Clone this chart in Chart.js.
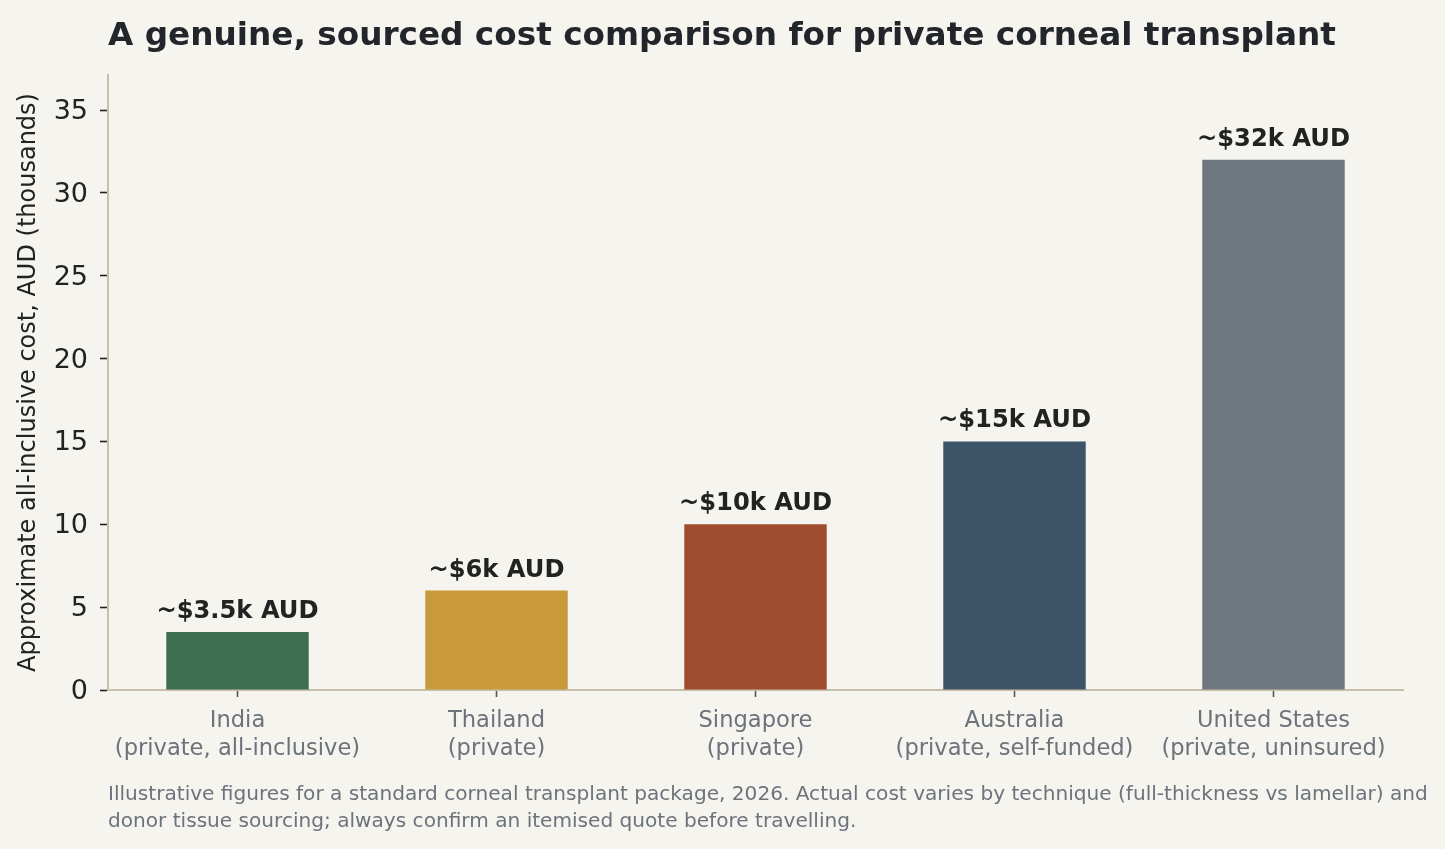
<!DOCTYPE html>
<html>
<head>
<meta charset="utf-8">
<script src="https://cdn.jsdelivr.net/npm/chart.js@4.4.1/dist/chart.umd.min.js"></script>
<style>
  html, body { margin: 0; padding: 0; background: #f5f4ef; }
  body { width: 1445px; height: 849px; position: relative; overflow: hidden; font-family: "DejaVu Sans", sans-serif; }
  #title { position: absolute; left: 108px; top: 18px; font-size: 32.7px; font-weight: bold; color: #22252a; line-height: 33px; white-space: nowrap; }
  #note { position: absolute; left: 108px; top: 780px; font-size: 20.1px; color: #6c737a; line-height: 27px; white-space: nowrap; }
  #wrap { position: absolute; left: 0; top: 0; width: 1445px; height: 849px; }
</style>
</head>
<body>
<div id="wrap"><canvas id="chart"></canvas></div>
<div id="title">A genuine, sourced cost comparison for private corneal transplant</div>
<div id="note">Illustrative figures for a standard corneal transplant package, 2026. Actual cost varies by technique (full-thickness vs lamellar) and<br>donor tissue sourcing; always confirm an itemised quote before travelling.</div>
<script>
// ─── data ─────────────────────────────
const categories = [
  ['India', '(private, all-inclusive)'],
  ['Thailand', '(private)'],
  ['Singapore', '(private)'],
  ['Australia', '(private, self-funded)'],
  ['United States', '(private, uninsured)']
];
const costs      = [3.5, 6, 10, 15, 32];
const valueTags  = ['~$3.5k AUD', '~$6k AUD', '~$10k AUD', '~$15k AUD', '~$32k AUD'];
const yTicks     = [0, 5, 10, 15, 20, 25, 30, 35];
const barColours = ['#3d7050', '#c99a3a', '#a04c2e', '#3d5468', '#6f777e'];

const FONT = '"DejaVu Sans", sans-serif';
const SPINE = '#c8bfa9';

// labels above bars
const barTags = {
  id: 'barTags',
  afterDatasetsDraw(chart) {
    const { ctx } = chart;
    const meta = chart.getDatasetMeta(0);
    ctx.save();
    ctx.font = 'bold 24.2px ' + FONT;
    ctx.fillStyle = '#222222';
    ctx.textAlign = 'center';
    ctx.textBaseline = 'alphabetic';
    meta.data.forEach((bar, i) => {
      ctx.fillText(valueTags[i], bar.x, bar.y - 14);
    });
    ctx.restore();
  }
};

new Chart(document.getElementById('chart'), {
  type: 'bar',
  data: {
    labels: categories,
    datasets: [{
      data: costs,
      backgroundColor: barColours,
      barPercentage: 0.55,
      categoryPercentage: 1.0,
      borderWidth: 0
    }]
  },
  options: {
    responsive: true,
    maintainAspectRatio: false,
    animation: false,
    layout: { padding: { left: 0, right: 42, top: 75, bottom: 0 } },
    plugins: {
      legend: { display: false },
      tooltip: { enabled: false }
    },
    scales: {
      x: {
        offset: true,
        border: { color: SPINE, width: 2 },
        grid: { drawOnChartArea: false, offset: false, tickLength: 7, tickColor: '#555555', tickWidth: 1.6 },
        ticks: { color: '#6c737a', font: { family: FONT, size: 22.6 }, padding: 11, maxRotation: 0 },
        afterFit(scale) { scale.height = 159; }
      },
      y: {
        min: 0,
        max: 37.12,
        border: { color: SPINE, width: 2 },
        grid: { drawOnChartArea: false, tickLength: 8, tickColor: '#222222', tickWidth: 1.6 },
        ticks: { stepSize: 5, color: '#222222', font: { family: FONT, size: 27 }, padding: 12, labelOffset: 2 },
        afterBuildTicks(scale) { scale.ticks = yTicks.map(v => ({ value: v })); },
        afterFit(scale) { scale.width = 108; },
        title: {
          display: true,
          text: 'Approximate all-inclusive cost, AUD (thousands)',
          color: '#222222',
          font: { family: FONT, size: 24 },
          padding: { top: 14, bottom: 0 }
        }
      }
    }
  },
  plugins: [barTags]
});
</script>
</body>
</html>
